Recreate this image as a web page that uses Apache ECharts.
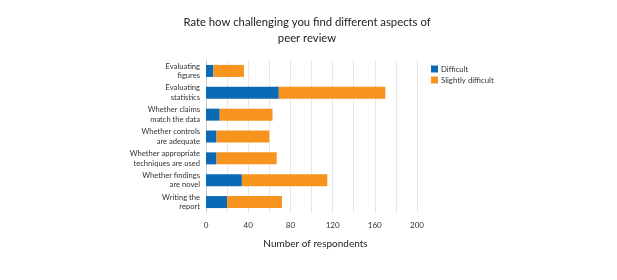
<!DOCTYPE html>
<html><head><meta charset="utf-8">
<script src="https://cdn.jsdelivr.net/npm/echarts@6/dist/echarts.min.js"></script>
<style>html,body{margin:0;padding:0;background:#fff}#c{width:617px;height:280px}</style>
</head><body><div id="c"></div>
<script>
var categories = ["Evaluating\nfigures","Evaluating\nstatistics","Whether claims\nmatch the data","Whether controls\nare adequate","Whether appropriate\ntechniques are used","Whether findings\nare novel","Writing the\nreport"];
var difficult = [7, 69, 13, 10, 10, 34, 20];
var slightlyDifficult = [29, 101, 50, 50, 57, 81, 52];
var seriesNames = ["Difficult", "Slightly difficult"];
var xTicks = [0, 40, 80, 120, 160, 200];

var font = "Lato";
var chart = echarts.init(document.getElementById('c'));
chart.setOption({
  animation: false,
  textStyle: {fontFamily: font},
  title: {
    text: "Rate how challenging you find different aspects of\npeer review",
    left: 302, top: 9, textAlign: 'center',
    textStyle: {fontFamily: font, fontSize: 11.3, fontWeight: 'normal', color: '#222', lineHeight: 16}
  },
  legend: {
    data: seriesNames, orient: 'vertical', left: 426, top: 60,
    itemWidth: 7, itemHeight: 7, itemGap: 3, icon: 'rect',
    textStyle: {fontFamily: font, fontSize: 7.8, color: '#333', padding: [0,0,0,-2]}
  },
  grid: {left: 206, right: 200, top: 60, bottom: 67},
  xAxis: {
    type: 'value', min: 0, max: 200, interval: 20,
    name: "Number of respondents", nameLocation: 'middle', nameGap: 26,
    nameTextStyle: {fontFamily: font, fontSize: 10, color: '#222', padding: [0,0,0,8]},
    axisLine: {show: false}, axisTick: {show: false},
    axisLabel: {fontFamily: font, fontSize: 8, color: '#333', margin: 8,
      formatter: function(v){ return xTicks.indexOf(v) >= 0 ? String(v) : ''; }},
    splitLine: {lineStyle: {color: '#e8e8e8', width: 1}}
  },
  yAxis: {
    type: 'category', data: categories, inverse: true,
    axisLine: {lineStyle: {color: '#cfcfcf'}}, axisTick: {show: false},
    axisLabel: {fontFamily: font, fontSize: 7.6, color: '#333', lineHeight: 9.5, margin: 6, align: 'right'}
  },
  series: [
    {name: seriesNames[0], type: 'bar', stack: 't', data: difficult, barWidth: 12, itemStyle: {color: '#0a6ab6'}},
    {name: seriesNames[1], type: 'bar', stack: 't', data: slightlyDifficult, barWidth: 12, itemStyle: {color: '#f7941d'}}
  ]
});
</script></body></html>
